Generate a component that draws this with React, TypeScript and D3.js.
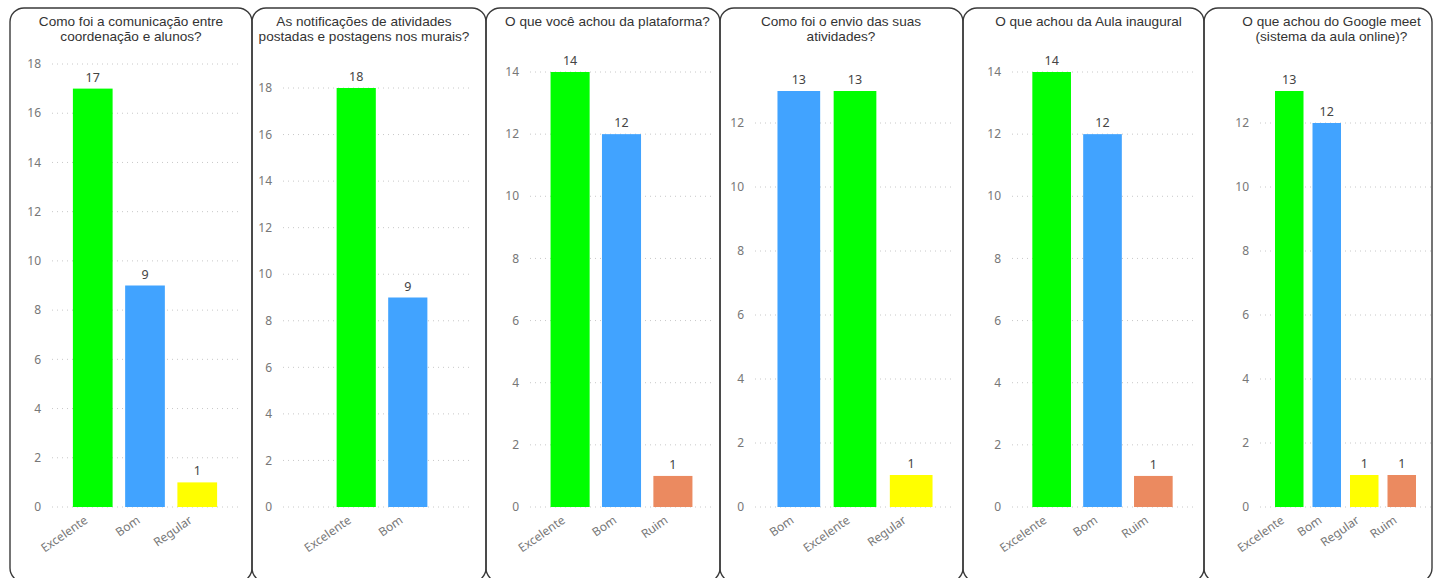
import React from "react";
import * as d3 from "d3";

// ---- data ----
const titleQ1 = ["Como foi a comunicação entre", "coordenação e alunos?"];
const titleQ2 = ["As notificações de atividades", "postadas e postagens nos murais?"];
const titleQ3 = ["O que você achou da plataforma?"];
const titleQ4 = ["Como foi o envio das suas", "atividades?"];
const titleQ5 = ["O que achou da Aula inaugural"];
const titleQ6 = ["O que achou do Google meet", "(sistema da aula online)?"];

const categoriesQ1 = ["Excelente", "Bom", "Regular"];
const valuesQ1 = [17, 9, 1];
const categoriesQ2 = ["Excelente", "Bom"];
const valuesQ2 = [18, 9];
const categoriesQ3 = ["Excelente", "Bom", "Ruim"];
const valuesQ3 = [14, 12, 1];
const categoriesQ4 = ["Bom", "Excelente", "Regular"];
const valuesQ4 = [13, 13, 1];
const categoriesQ5 = ["Excelente", "Bom", "Ruim"];
const valuesQ5 = [14, 12, 1];
const categoriesQ6 = ["Excelente", "Bom", "Regular", "Ruim"];
const valuesQ6 = [13, 12, 1, 1];

const yMaxes = [18, 18, 14, 13, 14, 13];
const tickStep = 2;

const categoryColors: Record<string, string> = {
  Excelente: "#00FF00",
  Bom: "#41A3FF",
  Regular: "#FFFF00",
  Ruim: "#EB8A60",
};

// ---- layout ----
const W = 1437;
const H = 578;
const panelEdges = [10, 252, 486, 720, 963, 1204, 1432];
const gridStart = [52, 283, 530, 755, 1012, 1260];
const gridEnd = [238, 473, 713, 955, 1193, 1431];
const bandRanges: ([number, number] | null)[] = [null, [316, 448], null, null, null, null];
const yTopPx = [64, 88, 72, 91, 72, 91];
const zeroY = 507;
const panelTop = 8;
const panelBottom = 582;

const panels = [
  { title: titleQ1, cats: categoriesQ1, vals: valuesQ1 },
  { title: titleQ2, cats: categoriesQ2, vals: valuesQ2 },
  { title: titleQ3, cats: categoriesQ3, vals: valuesQ3 },
  { title: titleQ4, cats: categoriesQ4, vals: valuesQ4 },
  { title: titleQ5, cats: categoriesQ5, vals: valuesQ5 },
  { title: titleQ6, cats: categoriesQ6, vals: valuesQ6 },
];

const titleFont = "'Liberation Sans', Arial, sans-serif";
const axisFont = "'Noto Sans', 'Open Sans', sans-serif";

function Panel({ i }: { i: number }) {
  const p = panels[i];
  const x0 = panelEdges[i];
  const x1 = panelEdges[i + 1];
  const gx0 = gridStart[i];
  const gx1 = gridEnd[i];
  const br = bandRanges[i] ?? [gx0, gx1];
  const x = d3
    .scaleBand<string>()
    .domain(p.cats)
    .range(br)
    .paddingInner(0.24)
    .paddingOuter(0.4);
  const y = d3.scaleLinear().domain([0, yMaxes[i]]).range([zeroY, yTopPx[i]]);
  const ticks = d3.range(0, yMaxes[i] + 0.001, tickStep);
  const titleCx = (gx0 - 28 + gx1) / 2;

  return (
    <g>
      <rect
        x={x0}
        y={panelTop}
        width={x1 - x0}
        height={panelBottom - panelTop}
        rx={14}
        ry={14}
        fill="none"
        stroke="#3a3a3a"
        strokeWidth={1.4}
      />
      {p.title.map((line, k) => (
        <text
          key={k}
          x={titleCx}
          y={26 + k * 15}
          textAnchor="middle"
          fontFamily={titleFont}
          fontSize={13.6}
          fill="#333"
        >
          {line}
        </text>
      ))}
      {ticks.map((t) => (
        <g key={t}>
          <line
            x1={gx0}
            x2={gx1}
            y1={y(t)}
            y2={y(t)}
            stroke="#c8c8c8"
            strokeWidth={1}
            strokeDasharray="1,4"
          />
          <text
            x={gx0 - 11}
            y={y(t)}
            dy="0.35em"
            textAnchor="end"
            fontFamily={axisFont}
            fontSize={12}
            fill="#777"
          >
            {t}
          </text>
        </g>
      ))}
      {p.cats.map((c, k) => {
        const bx = x(c)!;
        const bw = x.bandwidth();
        const v = p.vals[k];
        const cx = bx + bw / 2;
        return (
          <g key={c}>
            <rect x={bx} y={y(v)} width={bw} height={zeroY - y(v)} fill={categoryColors[c]} />
            <text
              x={cx}
              y={y(v) - 7}
              textAnchor="middle"
              fontFamily={axisFont}
              fontSize={12.5}
              fill="#444"
            >
              {v}
            </text>
            <text
              transform={`translate(${cx - 9},${515}) rotate(-35)`}
              dy="0.71em"
              textAnchor="end"
              fontFamily={axisFont}
              fontSize={12}
              fill="#777"
            >
              {c}
            </text>
          </g>
        );
      })}
    </g>
  );
}

export default function App() {
  return (
    <svg
      width={W}
      height={H}
      style={{ position: "absolute", left: 0, top: 0, background: "#fff" }}
    >
      {panels.map((_, i) => (
        <Panel key={i} i={i} />
      ))}
    </svg>
  );
}
